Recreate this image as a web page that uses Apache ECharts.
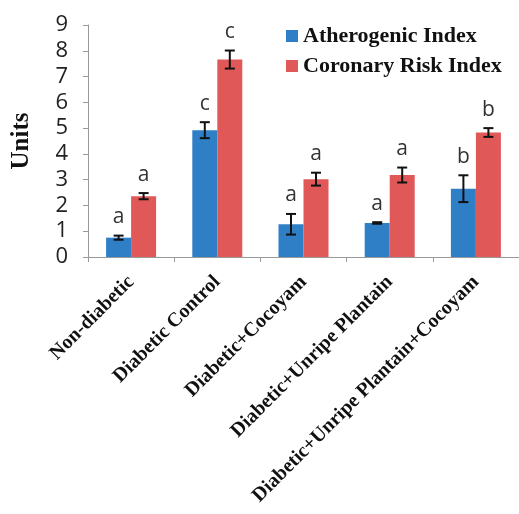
<!DOCTYPE html>
<html><head><meta charset="utf-8">
<script src="https://cdn.jsdelivr.net/npm/echarts@6/dist/echarts.min.js"></script>
<style>html,body{margin:0;padding:0;background:#fff}#c{width:519px;height:514px}</style>
</head><body><div id="c"></div>
<script>
var categories = ['Non-diabetic','Diabetic Control','Diabetic+Cocoyam','Diabetic+Unripe Plantain','Diabetic+Unripe Plantain+Cocoyam'];
var seriesNames = ['Atherogenic Index','Coronary Risk Index'];
var atherogenic = [0.75, 4.92, 1.27, 1.32, 2.65];
var atherogenicErr = [0.08, 0.31, 0.40, 0.03, 0.52];
var atherogenicLetters = ['a','c','a','a','b'];
var coronary = [2.36, 7.66, 3.02, 3.18, 4.83];
var coronaryErr = [0.12, 0.35, 0.25, 0.29, 0.17];
var coronaryLetters = ['a','c','a','a','b'];
var yTicks = [0,1,2,3,4,5,6,7,8,9];

var BW = 25;
function errSeries(vals, errs, letters, offset) {
  return {
    type: 'custom', z: 10, silent: true,
    data: vals.map(function(v,i){ return [i, v, errs[i], letters[i]]; }),
    renderItem: function(params, api) {
      var i = api.value(0), v = api.value(1), e = api.value(2);
      var top = api.coord([i, v + e]);
      var bot = api.coord([i, v - e]);
      var x = top[0] + offset;
      var cw = 5;
      var st = {stroke:'#111', lineWidth:2};
      return {type:'group', children:[
        {type:'line', shape:{x1:x,y1:top[1],x2:x,y2:bot[1]}, style:st},
        {type:'line', shape:{x1:x-cw,y1:top[1],x2:x+cw,y2:top[1]}, style:st},
        {type:'line', shape:{x1:x-cw,y1:bot[1],x2:x+cw,y2:bot[1]}, style:st},
        {type:'text', x:x, y:top[1]-8, style:{text:letters[i], fill:'#333', font:'21px "Open Sans", sans-serif', align:'center', verticalAlign:'bottom'}}
      ]};
    }
  };
}

var chart = echarts.init(document.getElementById('c'));
chart.setOption({
  animation:false,
  grid:{left:88, right:0, top:25, bottom:257, outerBoundsMode:'none', containLabel:false},
  legend:{
    data:seriesNames, orient:'vertical', left:281, top:20, itemWidth:12, itemHeight:12, itemGap:8,
    icon:'rect',
    textStyle:{fontFamily:'"Liberation Serif", serif', fontWeight:'bold', fontSize:22, color:'#111'}
  },
  xAxis:{
    type:'category', data:categories,
    axisLine:{lineStyle:{color:'#999', width:1}},
    axisTick:{show:true, length:5, lineStyle:{color:'#999'}},
    axisLabel:{rotate:45, interval:0, margin:22, fontFamily:'"Liberation Serif", serif', fontWeight:'bold', fontSize:20, color:'#111'}
  },
  yAxis:{
    type:'value', min:0, max:9, interval:1,
    name:'Units', nameLocation:'middle', nameGap:54, nameRotate:90,
    nameTextStyle:{fontFamily:'"Liberation Serif", serif', fontWeight:'bold', fontSize:25, color:'#111'},
    axisLine:{show:true, lineStyle:{color:'#999'}},
    axisTick:{show:true, length:5, lineStyle:{color:'#999'}},
    splitLine:{show:false},
    axisLabel:{fontFamily:'"Open Sans", sans-serif', fontSize:22, color:'#222', margin:20}
  },
  series:[
    {name:seriesNames[0], type:'bar', data:atherogenic, barWidth:BW, barGap:'0%', itemStyle:{color:'#2F7FC6'}},
    {name:seriesNames[1], type:'bar', data:coronary, barWidth:BW, barGap:'0%', itemStyle:{color:'#E05858'}},
    errSeries(atherogenic, atherogenicErr, atherogenicLetters, -BW/2),
    errSeries(coronary, coronaryErr, coronaryLetters, BW/2)
  ]
});
</script></body></html>
